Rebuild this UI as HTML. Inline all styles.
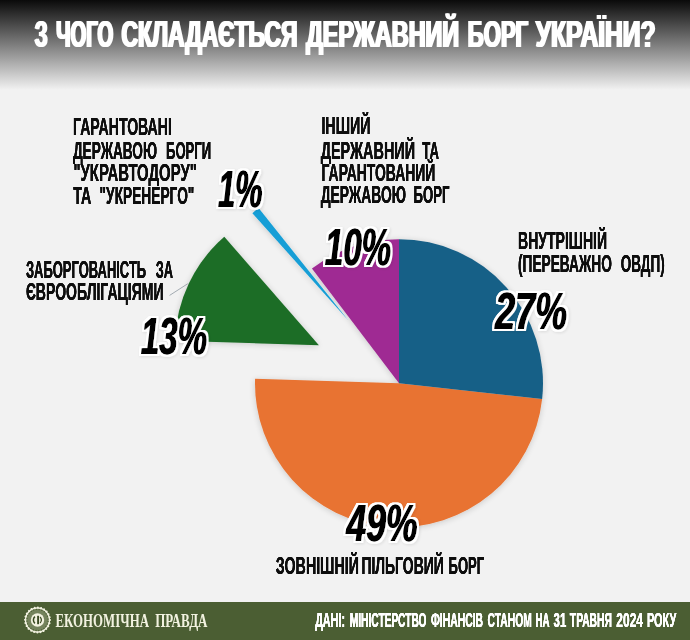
<!DOCTYPE html><html lang="uk"><head><meta charset="utf-8"><title>З чого складається державний борг України?</title>
<style>html,body{margin:0;padding:0;background:#f2f2f2}body{width:690px;height:640px;overflow:hidden}svg{display:block}</style></head><body>
<svg width="690" height="640" viewBox="0 0 690 640">
<defs><linearGradient id="hg" x1="0" y1="0" x2="0" y2="1"><stop offset="0" stop-color="#0a0a0a"/><stop offset="1" stop-color="#f2f2f2"/></linearGradient>
<filter id="sh" x="-20%" y="-20%" width="140%" height="140%"><feGaussianBlur in="SourceAlpha" stdDeviation="3"/><feOffset dx="0" dy="1"/><feComponentTransfer><feFuncA type="linear" slope="0.18"/></feComponentTransfer><feMerge><feMergeNode/><feMergeNode in="SourceGraphic"/></feMerge></filter>
<filter id="pct" x="-15%" y="-20%" width="130%" height="140%"><feOffset in="SourceGraphic" dx="-0.5" result="a"/><feOffset in="SourceGraphic" dx="0.5" result="b"/><feMerge result="g"><feMergeNode in="a"/><feMergeNode in="SourceGraphic"/><feMergeNode in="b"/></feMerge><feMorphology in="g" operator="dilate" radius="2" result="d"/><feFlood flood-color="#fff"/><feComposite operator="in" in2="d" result="w"/><feGaussianBlur in="d" stdDeviation="1.5"/><feOffset dx="0.5" dy="0.5"/><feComponentTransfer result="s"><feFuncA type="linear" slope="0.1"/></feComponentTransfer><feMerge><feMergeNode in="s"/><feMergeNode in="w"/><feMergeNode in="g"/></feMerge></filter>
<filter id="fat30" x="-5%" y="-10%" width="110%" height="120%"><feOffset dx="-0.3" result="a"/><feOffset in="SourceGraphic" dx="0.3" result="b"/><feMerge><feMergeNode in="a"/><feMergeNode in="SourceGraphic"/><feMergeNode in="b"/></feMerge></filter>
<filter id="fat35" x="-5%" y="-10%" width="110%" height="120%"><feOffset dx="-0.35" result="a"/><feOffset in="SourceGraphic" dx="0.35" result="b"/><feMerge><feMergeNode in="a"/><feMergeNode in="SourceGraphic"/><feMergeNode in="b"/></feMerge></filter>
<filter id="fat85" x="-5%" y="-10%" width="110%" height="120%"><feOffset dx="-0.85" result="a"/><feOffset in="SourceGraphic" dx="0.85" result="b"/><feMerge><feMergeNode in="a"/><feMergeNode in="SourceGraphic"/><feMergeNode in="b"/></feMerge></filter>
</defs>
<rect width="690" height="640" fill="#f2f2f2"/>
<rect width="690" height="90" fill="url(#hg)"/>
<g filter="url(#fat85)"><text transform="translate(34.85,47.20) scale(0.5435,1)" font-family='"Liberation Sans", sans-serif' font-weight="bold" font-size="37.68" fill="#fff">З</text></g>
<g filter="url(#fat85)"><text transform="translate(56.35,47.20) scale(0.5364,1)" font-family='"Liberation Sans", sans-serif' font-weight="bold" font-size="37.68" fill="#fff">ЧОГО</text></g>
<g filter="url(#fat85)"><text transform="translate(121.55,47.20) scale(0.6074,1)" font-family='"Liberation Sans", sans-serif' font-weight="bold" font-size="37.68" fill="#fff">СКЛАДАЄТЬСЯ</text></g>
<g filter="url(#fat85)"><text transform="translate(306.15,47.20) scale(0.6209,1)" font-family='"Liberation Sans", sans-serif' font-weight="bold" font-size="37.68" fill="#fff">ДЕРЖАВНИЙ</text></g>
<g filter="url(#fat85)"><text transform="translate(467.85,47.20) scale(0.5862,1)" font-family='"Liberation Sans", sans-serif' font-weight="bold" font-size="37.68" fill="#fff">БОРГ</text></g>
<g filter="url(#fat85)"><text transform="translate(535.75,47.20) scale(0.6542,1)" font-family='"Liberation Sans", sans-serif' font-weight="bold" font-size="37.68" fill="#fff">УКРАЇНИ?</text></g>
<g filter="url(#sh)">
<path d="M348.40,320.60 L252.42,213.25 A144,144 0 0 1 258.56,208.06 Z" fill="#149ed6"/>
<path d="M318.93,345.27 L175.00,340.74 A144,144 0 0 1 224.27,236.75 Z" fill="#1b6d25"/>
<path d="M399.00,383.20 L542.13,399.00 A144,144 0 0 1 255.07,378.68 Z" fill="#e87331"/>
<path d="M399.00,383.20 L311.94,268.50 A144,144 0 0 1 399.00,239.20 Z" fill="#9f2b93"/>
<path d="M399.00,383.20 L399.00,239.20 A144,144 0 0 1 542.13,399.00 Z" fill="#196087"/>
</g>
<line x1="169.6" y1="295.4" x2="187.8" y2="283.7" stroke="#9aa3aa" stroke-width="0.9"/>
<g filter="url(#fat30)"><text transform="translate(73.10,134.70) scale(0.5823,1)" font-family='"Liberation Sans", sans-serif' font-weight="bold" font-size="24.20" fill="#111">ГАРАНТОВАНІ</text></g>
<g filter="url(#fat30)"><text transform="translate(72.90,158.50) scale(0.5643,1)" font-family='"Liberation Sans", sans-serif' font-weight="bold" font-size="24.20" fill="#111">ДЕРЖАВОЮ</text></g>
<g filter="url(#fat30)"><text transform="translate(166.00,158.50) scale(0.5413,1)" font-family='"Liberation Sans", sans-serif' font-weight="bold" font-size="24.20" fill="#111">БОРГИ</text></g>
<g filter="url(#fat30)"><text transform="translate(73.50,180.80) scale(0.6149,1)" font-family='"Liberation Sans", sans-serif' font-weight="bold" font-size="24.20" fill="#111">"УКРАВТОДОРУ"</text></g>
<g filter="url(#fat30)"><text transform="translate(73.30,203.60) scale(0.5889,1)" font-family='"Liberation Sans", sans-serif' font-weight="bold" font-size="24.20" fill="#111">ТА</text></g>
<g filter="url(#fat30)"><text transform="translate(99.60,203.60) scale(0.5679,1)" font-family='"Liberation Sans", sans-serif' font-weight="bold" font-size="24.20" fill="#111">"УКРЕНЕРГО"</text></g>
<g filter="url(#fat30)"><text transform="translate(321.40,134.40) scale(0.5897,1)" font-family='"Liberation Sans", sans-serif' font-weight="bold" font-size="24.20" fill="#111">ІНШИЙ</text></g>
<g filter="url(#fat30)"><text transform="translate(320.70,158.50) scale(0.5964,1)" font-family='"Liberation Sans", sans-serif' font-weight="bold" font-size="24.20" fill="#111">ДЕРЖАВНИЙ</text></g>
<g filter="url(#fat30)"><text transform="translate(422.30,158.50) scale(0.5433,1)" font-family='"Liberation Sans", sans-serif' font-weight="bold" font-size="24.20" fill="#111">ТА</text></g>
<g filter="url(#fat30)"><text transform="translate(321.60,180.80) scale(0.5760,1)" font-family='"Liberation Sans", sans-serif' font-weight="bold" font-size="24.20" fill="#111">ГАРАНТОВАНИЙ</text></g>
<g filter="url(#fat30)"><text transform="translate(320.70,203.40) scale(0.5717,1)" font-family='"Liberation Sans", sans-serif' font-weight="bold" font-size="24.20" fill="#111">ДЕРЖАВОЮ</text></g>
<g filter="url(#fat30)"><text transform="translate(413.60,203.40) scale(0.5433,1)" font-family='"Liberation Sans", sans-serif' font-weight="bold" font-size="24.20" fill="#111">БОРГ</text></g>
<g filter="url(#fat30)"><text transform="translate(25.90,277.70) scale(0.5369,1)" font-family='"Liberation Sans", sans-serif' font-weight="bold" font-size="24.20" fill="#111">ЗАБОРГОВАНІСТЬ</text></g>
<g filter="url(#fat30)"><text transform="translate(155.80,277.70) scale(0.5295,1)" font-family='"Liberation Sans", sans-serif' font-weight="bold" font-size="24.20" fill="#111">ЗА</text></g>
<g filter="url(#fat30)"><text transform="translate(25.90,300.30) scale(0.5789,1)" font-family='"Liberation Sans", sans-serif' font-weight="bold" font-size="24.20" fill="#111">ЄВРООБЛІГАЦІЯМИ</text></g>
<g filter="url(#fat30)"><text transform="translate(518.00,249.10) scale(0.5809,1)" font-family='"Liberation Sans", sans-serif' font-weight="bold" font-size="24.20" fill="#111">ВНУТРІШНІЙ</text></g>
<g filter="url(#fat30)"><text transform="translate(518.00,272.40) scale(0.5670,1)" font-family='"Liberation Sans", sans-serif' font-weight="bold" font-size="24.20" fill="#111">(ПЕРЕВАЖНО</text></g>
<g filter="url(#fat30)"><text transform="translate(620.80,272.40) scale(0.5581,1)" font-family='"Liberation Sans", sans-serif' font-weight="bold" font-size="24.20" fill="#111">ОВДП)</text></g>
<g filter="url(#fat30)"><text transform="translate(275.80,573.70) scale(0.5849,1)" font-family='"Liberation Sans", sans-serif' font-weight="bold" font-size="24.35" fill="#111">ЗОВНІШНІЙ</text></g>
<g filter="url(#fat30)"><text transform="translate(361.40,573.70) scale(0.5726,1)" font-family='"Liberation Sans", sans-serif' font-weight="bold" font-size="24.35" fill="#111">ПІЛЬГОВИЙ</text></g>
<g filter="url(#fat30)"><text transform="translate(448.60,573.70) scale(0.5356,1)" font-family='"Liberation Sans", sans-serif' font-weight="bold" font-size="24.35" fill="#111">БОРГ</text></g>
<g filter="url(#pct)"><text transform="translate(217.70,207.00) scale(0.5827,1)" font-family='"Liberation Sans", sans-serif' font-weight="bold" font-style="italic" font-size="52.61" fill="#000">1%</text></g>
<g filter="url(#pct)"><text transform="translate(324.60,264.80) scale(0.6273,1)" font-family='"Liberation Sans", sans-serif' font-weight="bold" font-style="italic" font-size="52.61" fill="#000">10%</text></g>
<g filter="url(#pct)"><text transform="translate(140.50,354.20) scale(0.6273,1)" font-family='"Liberation Sans", sans-serif' font-weight="bold" font-style="italic" font-size="52.61" fill="#000">13%</text></g>
<g filter="url(#pct)"><text transform="translate(494.82,328.60) scale(0.6813,1)" font-family='"Liberation Sans", sans-serif' font-weight="bold" font-style="italic" font-size="52.61" fill="#000">27%</text></g>
<g filter="url(#pct)"><text transform="translate(345.91,540.70) scale(0.6747,1)" font-family='"Liberation Sans", sans-serif' font-weight="bold" font-style="italic" font-size="52.61" fill="#000">49%</text></g>
<rect y="602" width="690" height="38" fill="#4b5e33"/>
<circle cx="37.5" cy="620" r="11.4" fill="#74835c"/>
<g fill="none" stroke="#f2f2e0"><circle cx="37.5" cy="620" r="12.5" stroke-width="2" stroke-dasharray="0.01 3.2625" stroke-linecap="round"/><circle cx="37.5" cy="620" r="11.9" stroke-width="1.5"/></g>
<circle cx="37.5" cy="620" r="10.6" fill="none" stroke="#4b5e33" stroke-width="1.3" stroke-dasharray="0.01 2.765" stroke-dashoffset="1.39" stroke-linecap="round"/>
<circle cx="37.5" cy="620" r="6.7" fill="#f2f2e0"/>
<g fill="none" stroke="#3a4a22" stroke-width="1.5"><path d="M34.9,616.6 A4.6,4.6 0 0 0 34.9,623.4"/><path d="M40.1,617.0 A4.6,4.6 0 0 1 40.1,623.0" stroke-width="1.2"/><path d="M38.1,615.8 V624.2" stroke-width="1.9"/></g>
<text transform="translate(55.50,626.70) scale(0.6905,1)" font-family='"Liberation Serif", serif' font-weight="bold" font-size="18.63" fill="#f2f2e0">ЕКОНОМІЧНА</text>
<text transform="translate(155.20,626.70) scale(0.6985,1)" font-family='"Liberation Serif", serif' font-weight="bold" font-size="18.63" fill="#f2f2e0">ПРАВДА</text>
<g filter="url(#fat35)"><text transform="translate(315.15,627.00) scale(0.5476,1)" font-family='"Liberation Sans", sans-serif' font-weight="bold" font-size="19.71" fill="#fff">ДАНІ:</text></g>
<g filter="url(#fat35)"><text transform="translate(349.75,627.00) scale(0.5195,1)" font-family='"Liberation Sans", sans-serif' font-weight="bold" font-size="19.71" fill="#fff">МІНІСТЕРСТВО</text></g>
<g filter="url(#fat35)"><text transform="translate(430.95,627.00) scale(0.5276,1)" font-family='"Liberation Sans", sans-serif' font-weight="bold" font-size="19.71" fill="#fff">ФІНАНСІВ</text></g>
<g filter="url(#fat35)"><text transform="translate(487.55,627.00) scale(0.5215,1)" font-family='"Liberation Sans", sans-serif' font-weight="bold" font-size="19.71" fill="#fff">СТАНОМ</text></g>
<g filter="url(#fat35)"><text transform="translate(535.55,627.00) scale(0.4951,1)" font-family='"Liberation Sans", sans-serif' font-weight="bold" font-size="19.71" fill="#fff">НА</text></g>
<g filter="url(#fat35)"><text transform="translate(553.55,627.00) scale(0.5805,1)" font-family='"Liberation Sans", sans-serif' font-weight="bold" font-size="19.71" fill="#fff">31</text></g>
<g filter="url(#fat35)"><text transform="translate(569.85,627.00) scale(0.5242,1)" font-family='"Liberation Sans", sans-serif' font-weight="bold" font-size="19.71" fill="#fff">ТРАВНЯ</text></g>
<g filter="url(#fat35)"><text transform="translate(616.35,627.00) scale(0.6065,1)" font-family='"Liberation Sans", sans-serif' font-weight="bold" font-size="19.71" fill="#fff">2024</text></g>
<g filter="url(#fat35)"><text transform="translate(646.95,627.00) scale(0.5525,1)" font-family='"Liberation Sans", sans-serif' font-weight="bold" font-size="19.71" fill="#fff">РОКУ</text></g>
</svg></body></html>
